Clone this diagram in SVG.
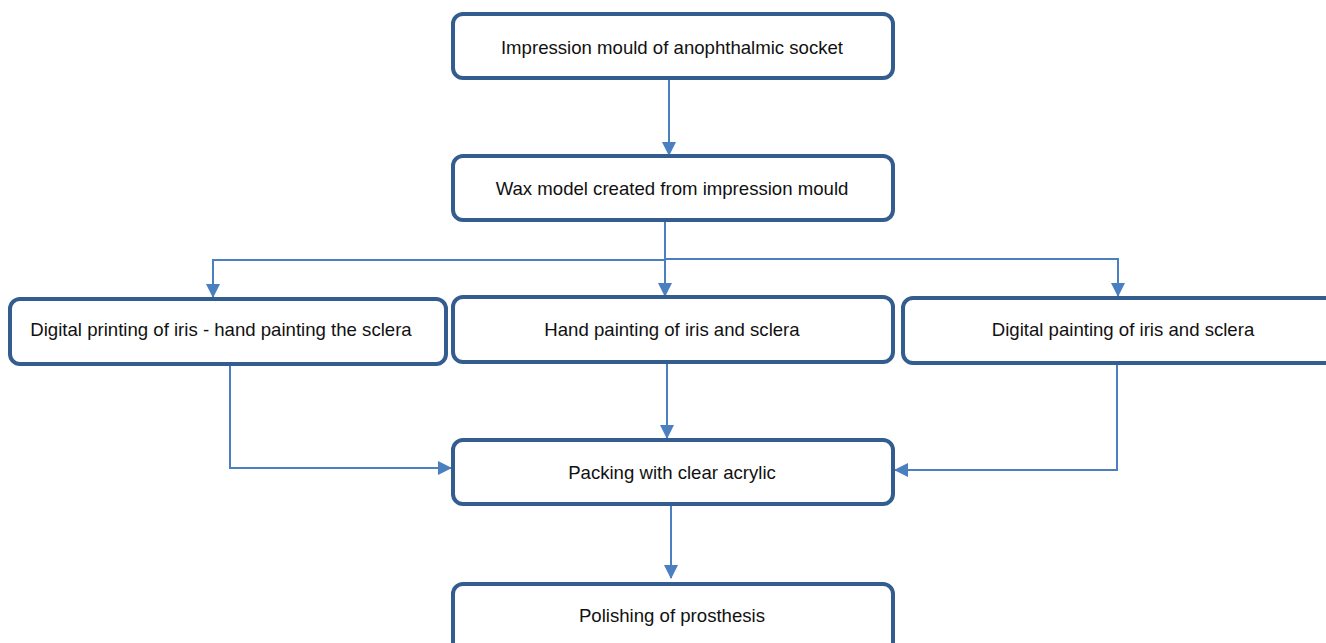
<svg xmlns="http://www.w3.org/2000/svg" width="1326" height="643" viewBox="0 0 1326 643">
<style>
.box{fill:#fff;stroke:#335d8f;stroke-width:4}
.t{font-family:"Liberation Sans",Arial,sans-serif;font-size:18.6px;fill:#111;text-anchor:middle}
.c{fill:none;stroke:#4a7fc0;stroke-width:2}
</style>
<defs>
<marker id="ah2" markerWidth="14" markerHeight="14" refX="13" refY="7" orient="auto" markerUnits="userSpaceOnUse" viewBox="0 0 14 14">
<path d="M0,0 L14,7 L0,14 z" fill="#4a7fc0"/>
</marker>
</defs>
<rect width="1326" height="643" fill="#fff"/>
<g id="connectors">
<path class="c" d="M669,78 V155" marker-end="url(#ah2)"/>
<path class="c" d="M665,220 V296" marker-end="url(#ah2)"/>
<path class="c" d="M665,260 H213 V297" marker-end="url(#ah2)"/>
<path class="c" d="M665,259 H1118 V296" marker-end="url(#ah2)"/>
<path class="c" d="M230,364 V468 H451" marker-end="url(#ah2)"/>
<path class="c" d="M667,362 V438" marker-end="url(#ah2)"/>
<path class="c" d="M1117,363 V470 H895" marker-end="url(#ah2)"/>
<path class="c" d="M671,504 V578" marker-end="url(#ah2)"/>
</g>
<g id="n1"><rect class="box" x="453" y="14" width="440" height="64" rx="10"/><text class="t" x="672" y="54">Impression mould of anophthalmic socket</text></g>
<g id="n2"><rect class="box" x="453" y="156" width="440" height="64" rx="10"/><text class="t" x="672" y="195">Wax model created from impression mould</text></g>
<g id="n3"><rect class="box" x="10" y="299" width="436" height="65" rx="10"/><text class="t" x="221" y="336">Digital printing of iris - hand painting the sclera</text></g>
<g id="n4"><rect class="box" x="453" y="297" width="440" height="65" rx="10"/><text class="t" x="672" y="336">Hand painting of iris and sclera</text></g>
<g id="n5"><rect class="box" x="903" y="298" width="440" height="65" rx="10"/><text class="t" x="1123" y="336">Digital painting of iris and sclera</text></g>
<g id="n6"><rect class="box" x="453" y="440" width="440" height="64" rx="10"/><text class="t" x="672" y="479">Packing with clear acrylic</text></g>
<g id="n7"><rect class="box" x="453" y="584" width="440" height="70" rx="10"/><text class="t" x="672" y="622">Polishing of prosthesis</text></g>
</svg>
